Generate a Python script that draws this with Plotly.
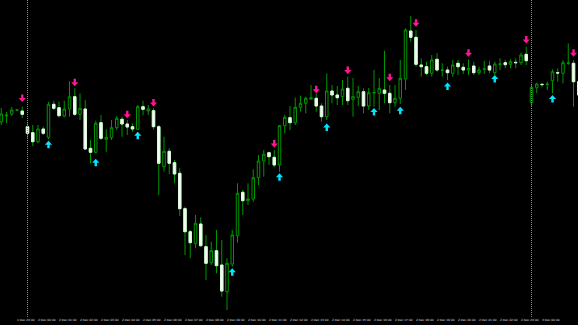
import plotly.graph_objects as go

# ---- data (values in chart points; higher = higher price) ----
bar_index = list(range(111))
opens = [278, 284, 286, 290, 289, 273.3, 267.3, 258.3, 271, 262.7,
         295.7, 292.3, 284, 291, 303.3, 285.7, 291, 251.7, 247.7, 277.3,
         260.7, 262.3, 272.3, 280.7, 276, 273.3, 270.7, 293.3, 289, 289.3,
         273.3, 233.3, 248.7, 237.3, 226.7, 191.3, 168.3, 156.7, 176, 153.3,
         137.3, 149.3, 135, 108.3, 136, 164.3, 207.7, 199.3, 201, 222.3,
         239, 247.3, 242.7, 235, 274.3, 282.3, 277.3, 292.7, 296.7, 301,
         301.7, 294, 283.3, 309, 305, 303.3, 311.7, 300.7, 302.7, 308.3,
         294, 307, 306.7, 310, 306.7, 297.3, 301.7, 321, 369, 362.7,
         335, 333.3, 326.7, 340.7, 329.7, 330, 326.7, 336.7, 332.7, 330,
         334, 327.3, 330.7, 334, 327.3, 335.7, 337.3, 335.7, 337.7, 337.3,
         345.7, 297.3, 312.3, 315.7, 315.5, 319.3, 327.3, 326.7, 336.7, 336.7,
         318.3]
highs = [292, 288, 293, 291, 293.3, 276.7, 275, 275, 273.3, 298.3,
         299.3, 298.3, 299.3, 319, 311.7, 306.7, 300, 260, 279.3, 285,
         270.7, 280, 284, 283.3, 280, 276.7, 295, 299.3, 295, 291.7,
         275, 263.3, 251.7, 240, 231.7, 193.3, 170, 185, 182.7, 165,
         158.3, 170, 160, 141.7, 170, 216.7, 210, 216.7, 230.7, 245,
         250, 248.3, 250, 275, 285, 294, 302.3, 304.3, 303.3, 315,
         306.7, 296.7, 326.7, 315, 314, 320, 323.3, 322, 314, 311.7,
         312, 330, 322, 349.3, 315, 315, 340, 371.7, 384, 370,
         341.7, 338.3, 345, 346.7, 336.7, 333.3, 340, 340, 336.7, 340.7,
         338.3, 333.3, 339.3, 339.3, 338.3, 341.7, 340, 340.7, 341.7, 347.3,
         353.3, 315, 317.3, 316.7, 318.3, 330.7, 331.7, 340, 356.7, 340,
         322]
lows = [275, 277, 284, 289, 282, 262, 254, 256.7, 265, 260.7,
        290, 282.7, 282.7, 283.3, 284, 280, 250, 236.7, 246.7, 260,
        248.3, 260, 270, 263.3, 265, 268.3, 270, 285, 285, 270.7,
        205, 228.3, 225.7, 216.7, 184, 145, 141.7, 151.7, 153.3, 120,
        135, 126.7, 103.3, 90, 133.3, 157.3, 185, 195, 198.3, 215,
        223.3, 235, 232.7, 228.3, 266.7, 270, 275, 288.3, 286.7, 300,
        288.3, 278.3, 280, 296.7, 295, 295, 295, 283.3, 294, 286.7,
        290, 293.3, 290, 296.7, 286.7, 293.3, 296, 310, 358.3, 333.3,
        323.3, 325, 323.3, 328.3, 323.3, 320, 323.3, 325, 326, 325,
        325, 325, 326, 326.7, 325, 330, 331.7, 331.7, 331.7, 335,
        335, 293.3, 306.7, 312.7, 310, 306.7, 318.3, 316.7, 335, 293.3,
        300]
closes = [286, 285, 290, 290.2, 285.7, 266.7, 258.3, 271, 266.7, 295.7,
          291.7, 284.3, 291, 303.3, 285.7, 291.7, 251, 247.7, 276.7, 261.7,
          262.7, 272.3, 281.7, 276, 273, 271, 293.3, 290.7, 291, 273.3,
          236.7, 248.7, 236.7, 226, 191.3, 168.3, 157.3, 176.7, 154.3, 136.7,
          149.3, 134.3, 109, 136.7, 165, 206.7, 199.3, 201, 222.3, 239,
          245.7, 243.3, 235, 274.3, 282.7, 277.3, 292.7, 296.7, 301.7, 302,
          294, 283.3, 309, 305, 302.3, 311, 299.3, 303.3, 308.3, 294,
          307.3, 307.5, 311.7, 306.7, 297.3, 301.7, 321.7, 370, 362.7, 335.7,
          333.3, 326.7, 340, 330, 330, 327.3, 335, 333.3, 330, 331.7,
          327.3, 330, 331, 330, 336, 336, 335.3, 338.3, 337.3, 345,
          339.3, 312.7, 316, 315.4, 315.8, 328.3, 327, 337.3, 337, 318.3,
          305]

sell_bars = [4, 14, 24, 29, 52, 60, 66, 74, 79, 89, 100, 109]
sell_marks = [301.7, 317.5, 285.5, 297.2, 256.3, 310.5, 329.7, 322.5, 377, 347, 360.3, 347]
buy_bars = [9, 18, 26, 44, 53, 62, 71, 76, 85, 94, 105]
buy_marks = [255.5, 237.5, 264.5, 128, 223, 272.8, 288.3, 289.5, 313.7, 321.2, 301.2]

separator_bars = [5, 101]

tick_bars = [3 + 4 * k for k in range(27)]
tick_labels = ["1 Dec 23:00", "2 Dec 00:00", "2 Dec 01:00", "2 Dec 02:00", "2 Dec 03:00",
               "2 Dec 04:00", "2 Dec 05:00", "2 Dec 06:00", "2 Dec 07:00", "2 Dec 08:00",
               "2 Dec 09:00", "2 Dec 10:00", "2 Dec 11:00", "2 Dec 12:00", "2 Dec 13:00",
               "2 Dec 14:00", "2 Dec 15:00", "2 Dec 16:00", "2 Dec 17:00", "2 Dec 18:00",
               "2 Dec 19:00", "2 Dec 20:00", "2 Dec 21:00", "2 Dec 22:00", "2 Dec 23:00",
               "3 Dec 00:00", "3 Dec 01:00"]

# ---- styles ----
WICK = "#009400"
PINK = "#ff1493"
CYAN = "#00e5ff"
BODY_WHITE = "#f4fff4"

# bearish bodies painted solid over the outline (body range only, no wick)
bear = [c < o for o, c in zip(opens, closes)]
body_top = [o if b else None for o, b in zip(opens, bear)]
body_bot = [c if b else None for c, b in zip(closes, bear)]

fig = go.Figure()
fig.add_trace(go.Candlestick(
    x=bar_index, open=opens, high=highs, low=lows, close=closes,
    increasing=dict(line=dict(color=WICK, width=1), fillcolor="#000000"),
    decreasing=dict(line=dict(color=WICK, width=1), fillcolor=BODY_WHITE),
    whiskerwidth=0, hoverinfo="skip", showlegend=False,
))
fig.add_trace(go.Candlestick(
    x=bar_index, open=body_top, high=body_top, low=body_bot, close=body_bot,
    increasing=dict(line=dict(color="#dff5df", width=1), fillcolor=BODY_WHITE),
    decreasing=dict(line=dict(color="#dff5df", width=1), fillcolor=BODY_WHITE),
    whiskerwidth=0, hoverinfo="skip", showlegend=False,
))

down_path = "M-1.2,3.8 L1.2,3.8 L1.2,0.2 L3.6,0.2 L0,-3.8 L-3.6,0.2 L-1.2,0.2 Z"
up_path = "M-1.2,-3.8 L1.2,-3.8 L1.2,-0.2 L3.6,-0.2 L0,3.8 L-3.6,-0.2 L-1.2,-0.2 Z"

shapes = []
for b in separator_bars:
    shapes.append(dict(type="line", xref="x", yref="paper", x0=b, x1=b, y0=0, y1=1,
                       line=dict(color="#8a8a8a", width=1, dash="1px,1px"), layer="above"))
for b, v in zip(sell_bars, sell_marks):
    shapes.append(dict(type="path", xref="x", yref="y", xsizemode="pixel", ysizemode="pixel",
                       xanchor=b, yanchor=v, path=down_path, fillcolor=PINK,
                       line=dict(width=0)))
for b, v in zip(buy_bars, buy_marks):
    shapes.append(dict(type="path", xref="x", yref="y", xsizemode="pixel", ysizemode="pixel",
                       xanchor=b, yanchor=v, path=up_path, fillcolor=CYAN,
                       line=dict(width=0)))

fig.update_layout(
    width=578, height=325,
    margin=dict(l=0, r=0, t=0, b=8, autoexpand=False),
    paper_bgcolor="#000000", plot_bgcolor="#000000",
    showlegend=False,
    shapes=shapes,
    boxgap=0.32, boxmode="overlay",
    xaxis=dict(range=[-0.238, 109.857], showgrid=False, zeroline=False, showline=False,
               rangeslider=dict(visible=False), tickmode="array",
               tickvals=tick_bars, ticktext=tick_labels, ticks="",
               tickangle=0, automargin=False,
               ticklabelposition="outside right",
               tickfont=dict(family="DejaVu Sans", size=2.9, color="#e0e0e0")),
    yaxis=dict(range=[83, 400], visible=False, showgrid=False, zeroline=False),
)

fig.write_html("out.html")
